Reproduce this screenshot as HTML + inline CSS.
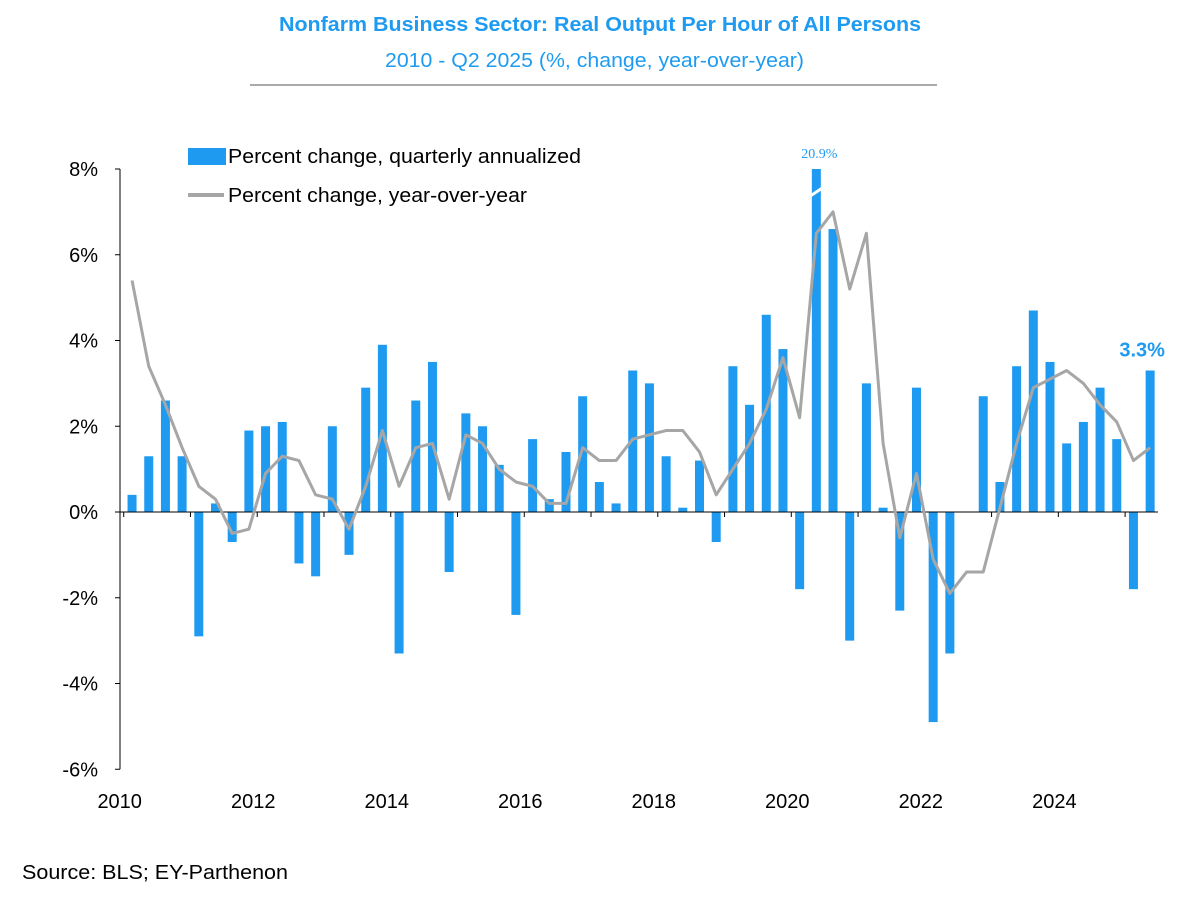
<!DOCTYPE html>
<html><head><meta charset="utf-8"><style>
body{margin:0;background:#fff;width:1200px;height:910px;overflow:hidden;font-family:"Liberation Sans",Arial,sans-serif}
</style></head><body>
<svg id="chart" width="1200" height="910" xmlns="http://www.w3.org/2000/svg" font-family="Liberation Sans, Arial, sans-serif">
<text x="279" y="31" font-size="20" font-weight="bold" fill="#1E9BF0" textLength="642" lengthAdjust="spacingAndGlyphs">Nonfarm Business Sector: Real Output Per Hour of All Persons</text>
<text x="385" y="67" font-size="20" fill="#1E9BF0" textLength="419" lengthAdjust="spacingAndGlyphs">2010 - Q2 2025 (%, change, year-over-year)</text>
<line x1="250" y1="85" x2="937" y2="85" stroke="#555" stroke-width="1"/>
<g>
<rect x="188" y="148" width="38" height="17" fill="#1E9BF0"/>
<text x="228" y="163" font-size="20" textLength="353" lengthAdjust="spacingAndGlyphs">Percent change, quarterly annualized</text>
<line x1="188" y1="195" x2="224" y2="195" stroke="#A6A6A6" stroke-width="4"/>
<text x="228" y="202" font-size="20" textLength="299" lengthAdjust="spacingAndGlyphs">Percent change, year-over-year</text>
</g>
<g id="plot"></g>
<text x="22" y="879" font-size="20" textLength="266" lengthAdjust="spacingAndGlyphs">Source: BLS; EY-Parthenon</text>
</svg>
<script>
const years=[2010,2012,2014,2016,2018,2020,2022,2024];
const yTicks=[8,6,4,2,0,-2,-4,-6];
const quarterlyAnnualized=[0.4,1.3,2.6,1.3,-2.9,0.2,-0.7,1.9,2.0,2.1,-1.2,-1.5,2.0,-1.0,2.9,3.9,-3.3,2.6,3.5,-1.4,2.3,2.0,1.1,-2.4,1.7,0.3,1.4,2.7,0.7,0.2,3.3,3.0,1.3,0.1,1.2,-0.7,3.4,2.5,4.6,3.8,-1.8,20.9,6.6,-3.0,3.0,0.1,-2.3,2.9,-4.9,-3.3,0.0,2.7,0.7,3.4,4.7,3.5,1.6,2.1,2.9,1.7,-1.8,3.3];
const yearOverYear=[5.4,3.4,2.5,1.5,0.6,0.3,-0.5,-0.4,0.9,1.3,1.2,0.4,0.3,-0.4,0.6,1.9,0.6,1.5,1.6,0.3,1.8,1.6,1.0,0.7,0.6,0.2,0.2,1.5,1.2,1.2,1.7,1.8,1.9,1.9,1.4,0.4,1.0,1.6,2.4,3.6,2.2,6.5,7.0,5.2,6.5,1.6,-0.6,0.9,-1.1,-1.9,-1.4,-1.4,0.1,1.6,2.9,3.1,3.3,3.0,2.5,2.1,1.2,1.5];
const NS="http://www.w3.org/2000/svg";
const g=document.getElementById('plot');
const Y0=512,PY=42.875,X0=123.7,QW=16.69;
const y=v=>Y0-v*PY;
const xq=i=>X0+(i+0.5)*QW;
const xYear=yr=>X0+(yr-2010)*4*QW;
function mk(t,a){const e=document.createElementNS(NS,t);for(const k in a)e.setAttribute(k,a[k]);g.appendChild(e);return e;}
let e=mk('line',{x1:120,y1:y(8),x2:120,y2:y(-6),stroke:'#000','stroke-width':1});


yTicks.forEach(t=>{
 let l=mk('line',{x1:115,x2:120,y1:y(t),y2:y(t),stroke:'#000'});
 
 
 let tx=mk('text',{x:98,y:y(t)+7,'text-anchor':'end','font-size':20});
 tx.textContent=t+'%';
 
 
});
years.forEach(yr=>{
 let tx=mk('text',{x:xYear(yr)-4,y:808,'text-anchor':'middle','font-size':20});
 tx.textContent=yr;
 
 
});
for(let yr=2010;yr<=2025;yr++){
 let l=mk('line',{x1:xYear(yr),x2:xYear(yr),y1:Y0,y2:Y0+5,stroke:'#000'});
 
 
}
quarterlyAnnualized.forEach((v,i)=>{
 const vv=Math.min(v,8);
 let r=mk('rect',{x:xq(i)-4.5,width:9,y:Math.min(y(vv),Y0),height:Math.abs(y(vv)-Y0),fill:'#1E9BF0'});
 
 
 if(v>8){
  let b=mk('line',{x1:xq(i)-6,y1:y(8)+27,x2:xq(i)+6,y2:y(8)+19,stroke:'#fff','stroke-width':3});
  
  
  let lb=mk('text',{x:xq(i)+3,y:y(8)-11,'text-anchor':'middle','font-size':14,fill:'#1E9BF0','font-family':'Liberation Serif, serif'});
  lb.textContent=v.toFixed(1)+'%';
  
  
 }
});
let ax=mk('line',{x1:120,x2:1158,y1:Y0,y2:Y0,stroke:'#000'});


let p=mk('polyline',{points:yearOverYear.map((v,i)=>xq(i)+','+y(v)).join(' '),fill:'none',stroke:'#A6A6A6','stroke-width':3,'stroke-linejoin':'round'});


const n=quarterlyAnnualized.length-1;
let last=mk('text',{x:xq(n)-8,y:y(quarterlyAnnualized[n])-14,'text-anchor':'middle','font-size':20,'font-weight':'bold',fill:'#1E9BF0'});
last.textContent=quarterlyAnnualized[n].toFixed(1)+'%';


</script>
</body></html>
